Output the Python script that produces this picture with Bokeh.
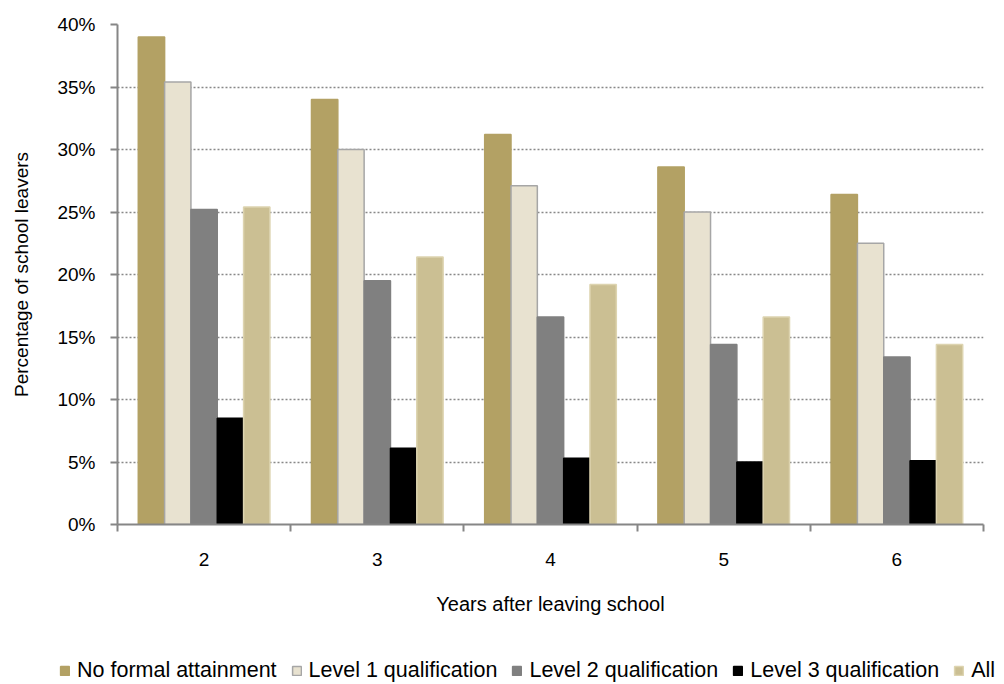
from bokeh.plotting import figure
from bokeh.models import (ColumnDataSource, FixedTicker, Legend, LegendItem,
                          Range1d)
from bokeh.layouts import column
from bokeh.embed import file_html
from bokeh.resources import INLINE

years = ["2", "3", "4", "5", "6"]
series_names = ["No formal attainment", "Level 1 qualification",
                "Level 2 qualification", "Level 3 qualification", "All"]
no_formal = [39.0, 34.0, 31.2, 28.6, 26.4]
level1 = [35.4, 30.0, 27.1, 25.0, 22.5]
level2 = [25.2, 19.5, 16.6, 14.4, 13.4]
level3 = [8.5, 6.1, 5.3, 5.0, 5.1]
all_leavers = [25.4, 21.4, 19.2, 16.6, 14.4]
y_ticks = [0, 5, 10, 15, 20, 25, 30, 35, 40]

series = [no_formal, level1, level2, level3, all_leavers]
fills = ["#B3A164", "#E8E2D0", "#808080", "#000000", "#CBBF93"]
lines = ["#B3A164", "#A6A6A6", "#808080", "#000000", "#DDD4B0"]

FONT = "Liberation Sans"
p = figure(width=1004, height=640, output_backend="svg", toolbar_location=None,
           x_range=Range1d(0, len(years)), y_range=Range1d(0, 40),
           min_border_left=117, min_border_right=21, min_border_top=24,
           min_border_bottom=116)
p.frame_align = False
p.outline_line_color = None
p.background_fill_color = "white"

bw = 0.152
n = len(series)
for k, vals in enumerate(series):
    xs = [i + 0.5 + (k - (n - 1) / 2) * bw for i in range(len(years))]
    src = ColumnDataSource(dict(x=xs, top=vals))
    p.vbar(x="x", top="top", width=bw, bottom=0, source=src,
           fill_color=fills[k], line_color=lines[k], line_width=1.5)

# y axis
p.yaxis.ticker = FixedTicker(ticks=y_ticks)
p.yaxis.major_label_overrides = {t: f"{t}%" for t in y_ticks}
p.yaxis.axis_line_color = "#868686"
p.yaxis.axis_line_width = 2
p.yaxis.major_tick_line_color = "#868686"
p.yaxis.major_tick_line_width = 2
p.yaxis.major_tick_out = 7
p.yaxis.major_tick_in = 0
p.yaxis.minor_tick_line_color = None
p.yaxis.major_label_text_font = FONT
p.yaxis.major_label_text_font_size = "19px"
p.yaxis.major_label_text_color = "#000000"
p.yaxis.major_label_standoff = 15
p.yaxis.axis_label = "Percentage of school leavers"
p.yaxis.axis_label_text_font = FONT
p.yaxis.axis_label_text_font_size = "19px"
p.yaxis.axis_label_text_font_style = "normal"
p.yaxis.axis_label_text_color = "#000000"
p.yaxis.axis_label_standoff = 22

# x axis: labels at category centres, tick marks at boundaries
centres = [i + 0.5 for i in range(len(years))]
p.xaxis.ticker = FixedTicker(ticks=centres,
                             minor_ticks=list(range(len(years) + 1)))
p.xaxis.major_label_overrides = {c: y for c, y in zip(centres, years)}
p.xaxis.major_tick_line_color = None
p.xaxis.minor_tick_line_color = "#868686"
p.xaxis.minor_tick_line_width = 2
p.xaxis.minor_tick_out = 7
p.xaxis.minor_tick_in = 0
p.xaxis.axis_line_color = "#868686"
p.xaxis.axis_line_width = 2
p.xaxis.major_label_text_font = FONT
p.xaxis.major_label_text_font_size = "19px"
p.xaxis.major_label_text_color = "#000000"
p.xaxis.major_label_standoff = 21
p.xaxis.axis_label = "Years after leaving school"
p.xaxis.axis_label_text_font = FONT
p.xaxis.axis_label_text_font_size = "20px"
p.xaxis.axis_label_text_font_style = "normal"
p.xaxis.axis_label_text_color = "#000000"
p.xaxis.axis_label_standoff = 24

p.xgrid.grid_line_color = None
p.ygrid.grid_line_color = "#888888"
p.ygrid.grid_line_dash = "2 2"
p.ygrid.grid_line_width = 1.5

# legend strip below the chart (swatch renderers sit outside its range)
lg = figure(width=1004, height=44, output_backend="svg", toolbar_location=None,
            x_range=Range1d(0, 1), y_range=Range1d(0, 1),
            x_axis_type=None, y_axis_type=None,
            min_border_left=0, min_border_right=0, min_border_top=0,
            min_border_bottom=0)
lg.frame_align = False
lg.outline_line_color = None
lg.xgrid.grid_line_color = None
lg.ygrid.grid_line_color = None
items = []
for k, name in enumerate(series_names):
    r = lg.vbar(x=[10], top=[0], width=0.1, fill_color=fills[k],
                line_color=lines[k], line_width=1.5)
    items.append(LegendItem(label=name, renderers=[r]))
legend = Legend(items=items, orientation="horizontal", location=(59, 1),
                label_text_font=FONT, label_text_font_size="21.5px",
                label_text_color="#000000",
                glyph_width=11, glyph_height=11, label_standoff=7,
                spacing=14, padding=0, margin=0, border_line_color=None,
                background_fill_alpha=0)
lg.add_layout(legend)

layout = column(p, lg, spacing=0)
open("out.html", "w").write(file_html(layout, INLINE))
